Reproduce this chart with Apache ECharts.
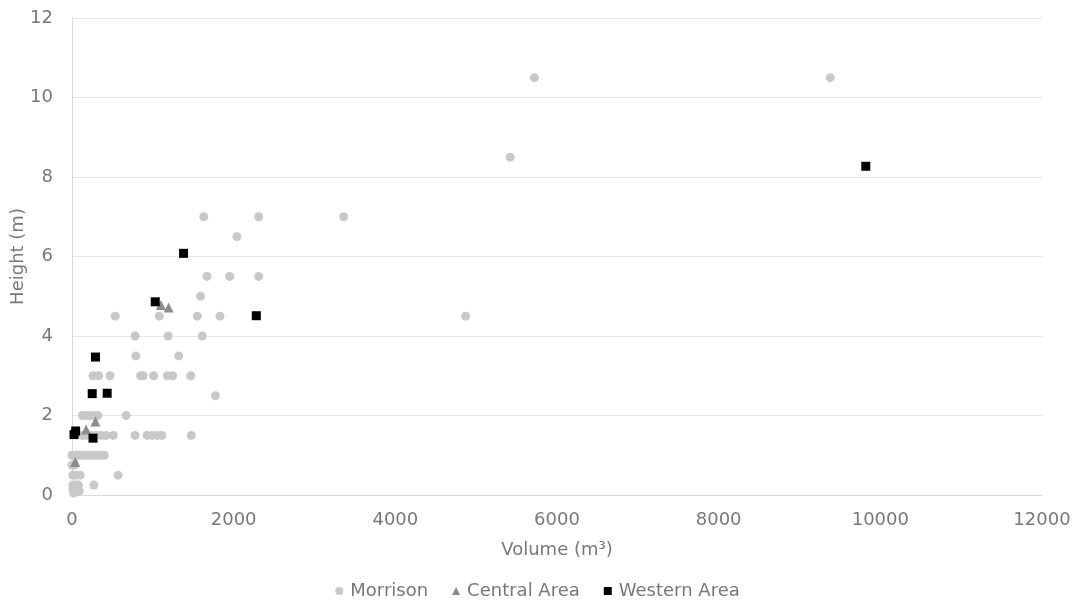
<!DOCTYPE html>
<html>
<head>
<meta charset="utf-8">
<script src="https://cdn.jsdelivr.net/npm/echarts@6/dist/echarts.min.js"></script>
<style>html,body{margin:0;padding:0;background:#fff}#c{width:1075px;height:602px}</style>
</head>
<body>
<div id="c"></div>
<script>
var xTicks = [0, 2000, 4000, 6000, 8000, 10000, 12000];
var yTicks = [0, 2, 4, 6, 8, 10, 12];

var morrison = [
  [5720,10.5],[9380,10.5],[5420,8.5],[3360,7],[4870,4.5],[2310,7],[2310,5.5],[2040,6.5],
  [1630,7],[1670,5.5],[1950,5.5],[1590,5],[1830,4.5],[1550,4.5],[1610,4],[1080,4.5],[535,4.5],
  [1320,3.5],[1190,4],[780,4],[790,3.5],[1470,3],[1180,3],[1245,3],[1010,3],[850,3],[880,3],
  [470,3],[260,3],[330,3],[1775,2.5],[670,2],[1475,1.5],[930,1.5],[990,1.5],[1050,1.5],[1110,1.5],
  [780,1.5],[510,1.5],[570,0.5],[270,0.25],
  [130,2],[170,2],[220,2],[280,2],[320,2],
  [130,1.5],[180,1.5],[240,1.5],[300,1.5],[360,1.5],[420,1.5],
  [0,1],[40,1],[80,1],[120,1],[160,1],[200,1],[240,1],[280,1],[320,1],[360,1],[400,1],
  [0,0.75],[30,0.75],
  [10,0.5],[50,0.5],[100,0.5],
  [10,0.25],[50,0.25],[80,0.25],
  [10,0.15],[40,0.1],[70,0.15],[20,0.05],[60,0.2],[90,0.1]
];
var central = [[1100,4.78],[1195,4.72],[290,1.85],[175,1.65],[40,0.83]];
var western = [[9820,8.27],[1380,6.08],[1030,4.86],[2280,4.51],[290,3.47],[250,2.55],[435,2.56],[45,1.61],[25,1.52],[260,1.43]];

var font = 'DejaVu Sans';
var txt = '#787878';
var chart = echarts.init(document.getElementById('c'));
chart.setOption({
  animation: false,
  backgroundColor: '#ffffff',
  grid: {left: 72, right: 33, top: 18, bottom: 107, containLabel: false, outerBoundsMode: 'none'},
  xAxis: {
    type: 'value', min: xTicks[0], max: xTicks[xTicks.length-1], interval: xTicks[1]-xTicks[0],
    name: 'Volume (m³)', nameLocation: 'middle', nameGap: 46, nameMoveOverlap: false,
    nameTextStyle: {fontFamily: font, fontSize: 18, color: txt},
    axisLine: {show: true, lineStyle: {color: '#d9d9d9', width: 1}},
    axisTick: {show: false},
    splitLine: {show: false},
    axisLabel: {fontFamily: font, fontSize: 18, color: txt, margin: 16, formatter: function(v){return String(v);}}
  },
  yAxis: {
    type: 'value', min: yTicks[0], max: yTicks[yTicks.length-1], interval: yTicks[1]-yTicks[0],
    name: 'Height (m)', nameLocation: 'middle', nameGap: 45, nameMoveOverlap: false,
    nameTextStyle: {fontFamily: font, fontSize: 18, color: txt},
    axisLine: {show: true, lineStyle: {color: '#d9d9d9', width: 1}},
    axisTick: {show: false},
    splitLine: {show: true, lineStyle: {color: '#e6e6e6', width: 1}},
    axisLabel: {fontFamily: font, fontSize: 18, color: txt, margin: 19}
  },
  legend: {
    top: 577, left: 'center', itemGap: 24, itemWidth: 8, itemHeight: 8,
    textStyle: {fontFamily: font, fontSize: 18, color: txt, padding: [0, 0, 0, 2]},
    data: [
      {name: 'Morrison', icon: 'circle'},
      {name: 'Central Area', icon: 'triangle'},
      {name: 'Western Area', icon: 'rect'}
    ]
  },
  series: [
    {name: 'Morrison', type: 'scatter', symbol: 'circle', symbolSize: 9, data: morrison, itemStyle: {color: '#c8c8c8', opacity: 1}},
    {name: 'Central Area', type: 'scatter', symbol: 'triangle', symbolSize: 10, data: central, itemStyle: {color: '#8c8c8c', opacity: 1}},
    {name: 'Western Area', type: 'scatter', symbol: 'rect', symbolSize: 9, data: western, itemStyle: {color: '#000000', opacity: 1}}
  ]
});
</script>
</body>
</html>
